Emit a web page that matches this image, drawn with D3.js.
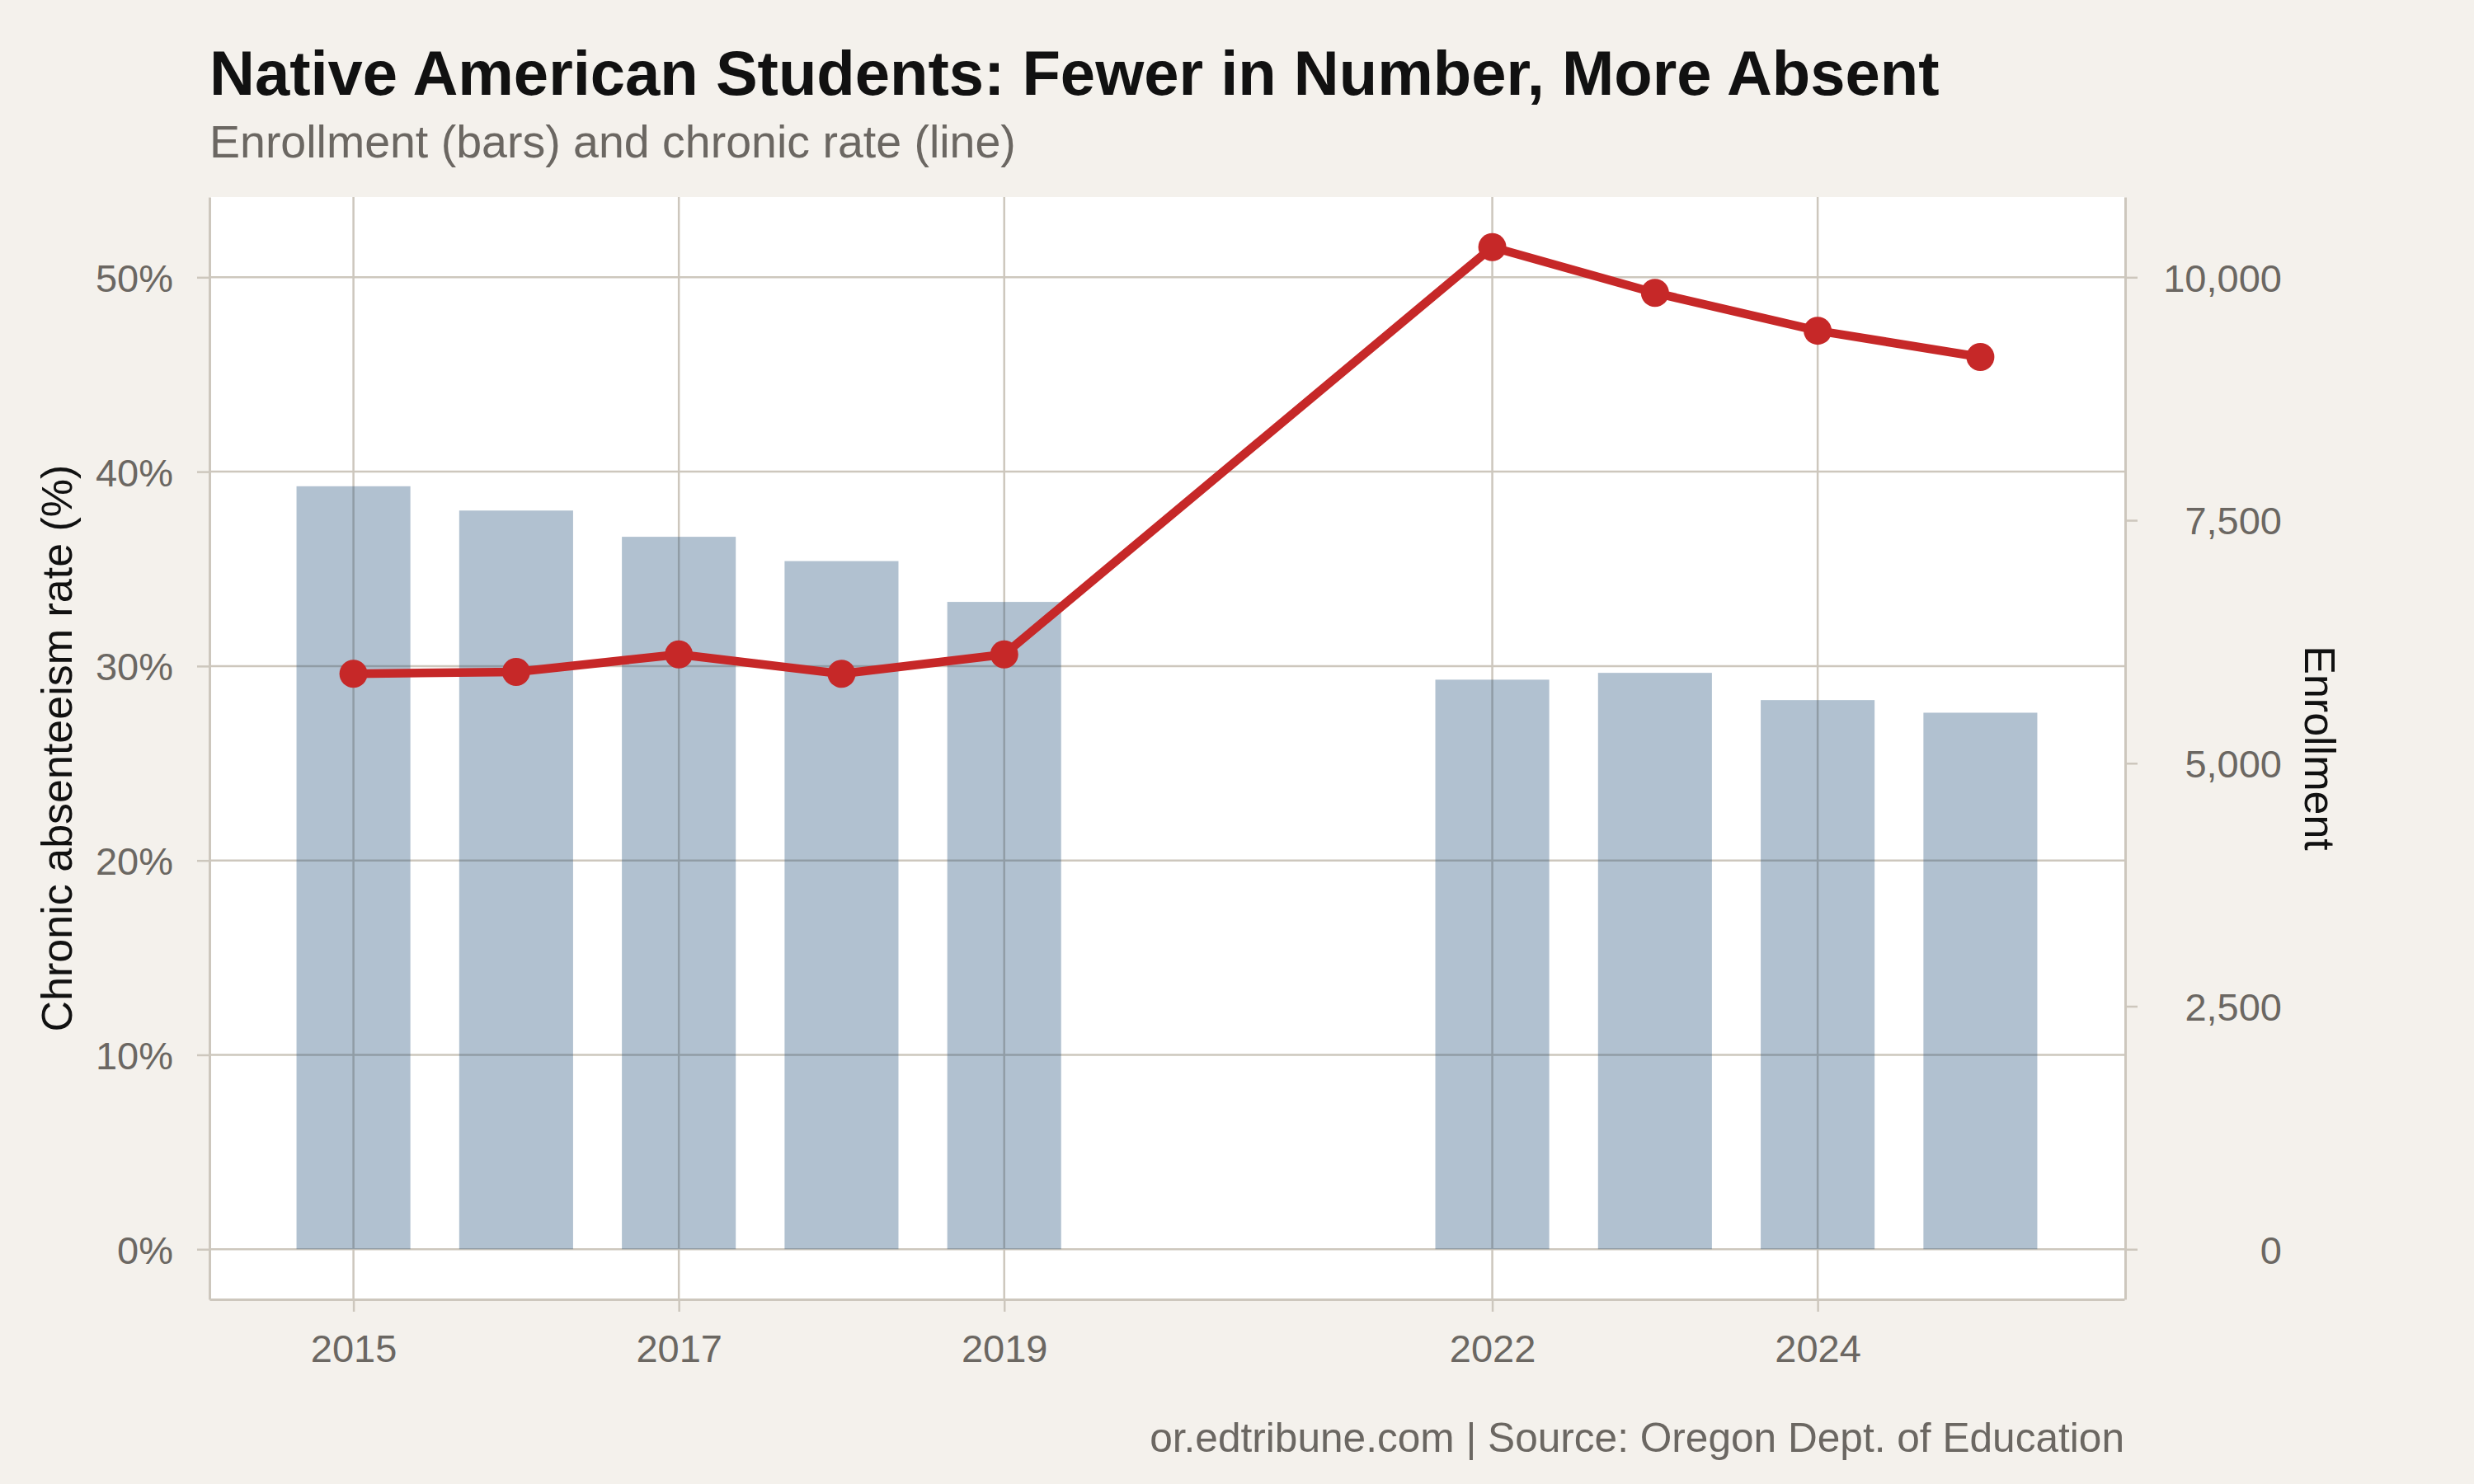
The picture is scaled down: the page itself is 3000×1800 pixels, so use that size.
<!DOCTYPE html>
<html>
<head>
<meta charset="utf-8">
<script src="https://cdn.jsdelivr.net/npm/d3@7"></script>
<style>
  body { margin: 0; background: #f4f1ec; }
  svg { display: block; font-family: "Liberation Sans", Arial, Helvetica, sans-serif; }
</style>
</head>
<body>
<svg id="chart" width="3000" height="1800"></svg>
<script>
// data
const years = [2015, 2016, 2017, 2018, 2019, 2022, 2023, 2024, 2025];
const enrollment = [7850, 7600, 7330, 7080, 6660, 5860, 5930, 5650, 5520];
const chronicRate = [29.6, 29.7, 30.6, 29.6, 30.6, 51.55, 49.2, 47.25, 45.9];

const xTicks = [2015, 2017, 2019, 2022, 2024];
const pctTicks = [0, 10, 20, 30, 40, 50];
const enrollTicks = [0, 2500, 5000, 7500, 10000];

const titleText = "Native American Students: Fewer in Number, More Absent";
const subtitleText = "Enrollment (bars) and chronic rate (line)";
const captionText = "or.edtribune.com | Source: Oregon Dept. of Education";

// 10,000 students sits level with 50%
const enrollPerPct = 200;

const panel = { left: 254, right: 2576, top: 239, bottom: 1576 };
const barWidth = 0.7;
const gridColour = "#cdc7bd";
const textGrey = "#6b6762";

const data = years.map((y, i) => ({ year: y, enroll: enrollment[i], rate: chronicRate[i] }));

const svg = d3.select("#chart");

svg.append("rect")
    .attr("width", 3000).attr("height", 1800)
    .attr("fill", "#f4f1ec");

// ggplot-style 5% expansion
const xLo = d3.min(years) - barWidth / 2, xHi = d3.max(years) + barWidth / 2;
const xPad = (xHi - xLo) * 0.05;
const x = d3.scaleLinear()
    .domain([xLo - xPad, xHi + xPad])
    .range([panel.left, panel.right]);

const yMax = d3.max(chronicRate);
const yPad = yMax * 0.05;
const yPct = d3.scaleLinear()
    .domain([-yPad, yMax + yPad])
    .range([panel.bottom, panel.top]);

const yEnroll = d3.scaleLinear()
    .domain(yPct.domain().map(d => d * enrollPerPct))
    .range(yPct.range());

svg.append("rect")
    .attr("x", panel.left).attr("y", panel.top)
    .attr("width", panel.right - panel.left)
    .attr("height", panel.bottom - panel.top)
    .attr("fill", "#ffffff");

// grid
const grid = svg.append("g").attr("class", "grid")
    .attr("stroke", gridColour).attr("stroke-width", 2.5);

grid.selectAll("line.h").data(pctTicks).join("line")
    .attr("class", "h")
    .attr("x1", panel.left).attr("x2", panel.right)
    .attr("y1", d => yPct(d)).attr("y2", d => yPct(d));

grid.selectAll("line.v").data(xTicks).join("line")
    .attr("class", "v")
    .attr("y1", panel.top).attr("y2", panel.bottom)
    .attr("x1", d => x(d)).attr("x2", d => x(d));

// bars (enrollment)
svg.append("g").attr("class", "bars")
    .selectAll("rect").data(data).join("rect")
    .attr("x", d => x(d.year - barWidth / 2))
    .attr("width", d => x(d.year + barWidth / 2) - x(d.year - barWidth / 2))
    .attr("y", d => yEnroll(d.enroll))
    .attr("height", d => yEnroll(0) - yEnroll(d.enroll))
    .attr("fill", "#1f4e79")
    .attr("fill-opacity", 0.35);

// line (chronic rate)
const line = d3.line()
    .x(d => x(d.year))
    .y(d => yPct(d.rate));

svg.append("path")
    .datum(data)
    .attr("d", line)
    .attr("fill", "none")
    .attr("stroke", "#c62828")
    .attr("stroke-width", 10.5)
    .attr("stroke-linejoin", "round");

svg.append("g").attr("class", "points")
    .selectAll("circle").data(data).join("circle")
    .attr("cx", d => x(d.year))
    .attr("cy", d => yPct(d.rate))
    .attr("r", 17)
    .attr("fill", "#c62828");

// axes
function styleAxis(g) {
    g.attr("font-family", null).attr("font-size", null);
    g.select(".domain").attr("stroke", gridColour).attr("stroke-width", 3);
    g.selectAll(".tick line").attr("stroke", gridColour).attr("stroke-width", 2.5);
    g.selectAll(".tick text")
        .attr("fill", textGrey)
        .style("font-size", "47px");
}

const leftAxis = svg.append("g")
    .attr("transform", `translate(${panel.left},0)`)
    .call(d3.axisLeft(yPct).tickValues(pctTicks).tickFormat(d => d + "%")
        .tickSizeInner(15).tickSizeOuter(0).tickPadding(29))
    .call(styleAxis);
leftAxis.selectAll(".tick text").attr("dy", "0.36em");

const rightAxis = svg.append("g")
    .attr("transform", `translate(${panel.right + 1},0)`)
    .call(d3.axisRight(yEnroll).tickValues(enrollTicks).tickFormat(d3.format(","))
        .tickSizeInner(15).tickSizeOuter(0))
    .call(styleAxis);
rightAxis.selectAll(".tick text")
    .attr("text-anchor", "end")
    .attr("x", 2767 - panel.right - 1)
    .attr("dy", "0.36em");

const bottomAxis = svg.append("g")
    .attr("transform", `translate(0,${panel.bottom})`)
    .call(d3.axisBottom(x).tickValues(xTicks).tickFormat(d3.format("d"))
        .tickSizeInner(15).tickSizeOuter(0))
    .call(styleAxis);
bottomAxis.selectAll(".tick text")
    .attr("y", 1652 - panel.bottom)
    .attr("dy", 0);

// axis titles
svg.append("text")
    .attr("transform", `translate(87,${(panel.top + panel.bottom) / 2}) rotate(-90)`)
    .attr("text-anchor", "middle")
    .style("font-size", "52px")
    .attr("fill", "#111")
    .text("Chronic absenteeism rate (%)");

svg.append("text")
    .attr("transform", `translate(2795,${(panel.top + panel.bottom) / 2}) rotate(90)`)
    .attr("text-anchor", "middle")
    .style("font-size", "52px")
    .attr("fill", "#111")
    .text("Enrollment");

// titles
svg.append("text")
    .attr("x", panel.left).attr("y", 115)
    .style("font-size", "76px").style("font-weight", "bold")
    .attr("fill", "#111")
    .text(titleText);

svg.append("text")
    .attr("x", panel.left).attr("y", 191)
    .style("font-size", "55.5px")
    .attr("fill", textGrey)
    .text(subtitleText);

svg.append("text")
    .attr("x", panel.right).attr("y", 1761)
    .attr("text-anchor", "end")
    .style("font-size", "49.6px")
    .attr("fill", textGrey)
    .text(captionText);
</script>
</body>
</html>
